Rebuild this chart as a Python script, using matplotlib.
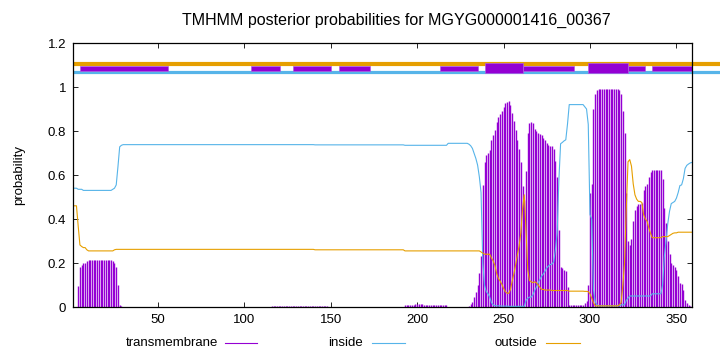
import numpy as np
import matplotlib
matplotlib.use("Agg")
import matplotlib.pyplot as plt
from matplotlib.lines import Line2D
from matplotlib.patches import Rectangle

plt.rcParams['font.family'] = ['Liberation Sans', 'DejaVu Sans']

title = "TMHMM posterior probabilities for MGYG000001416_00367"
seq_len = 359

# posterior probabilities per residue
tm = ([0, 0, 0, 0.097, 0.183, 0.19, 0.2, 0.2, 0.21] + [0.215] * 14
      + [0.21, 0.2, 0.183, 0.1, 0.01, 0.003]
      + [0.0] * 86 + [0.004] * 33 + [0.0] * 44
      + [0.008] * 6 + [0.015] * 5 + [0.01] * 14 + [0.001] * 12
      + [0.005, 0.012, 0.024, 0.047, 0.07, 0.1, 0.153, 0.23, 0.555, 0.66,
         0.69, 0.7, 0.715, 0.757, 0.78, 0.805, 0.842, 0.865, 0.877, 0.892,
         0.911, 0.926, 0.933, 0.935, 0.918, 0.88, 0.845, 0.805, 0.76, 0.72,
         0.66, 0.55, 0.487]
      + [0.62, 0.79, 0.835, 0.84, 0.835, 0.81, 0.8, 0.79, 0.785, 0.78,
         0.77, 0.76, 0.745, 0.737, 0.73, 0.73, 0.72, 0.665, 0.59, 0.35,
         0.183, 0.177, 0.17, 0.165, 0.093]
      + [0.008] * 9
      + [0.019, 0.029, 0.1, 0.52, 0.56, 0.9, 0.97, 0.985]
      + [0.99] * 12
      + [0.985, 0.97, 0.89, 0.79, 0.52, 0.3, 0.28, 0.31, 0.39, 0.44,
         0.46, 0.47, 0.47, 0.475, 0.53, 0.55, 0.56, 0.59, 0.615]
      + [0.625] * 6
      + [0.58, 0.45, 0.38, 0.3, 0.24, 0.2, 0.19, 0.183, 0.168, 0.14,
         0.108, 0.105, 0.077, 0.03, 0.016, 0.01, 0.005, 0.003])

inside = ([0.54] * 3 + [0.535] * 3 + [0.53] * 17
          + [0.535, 0.54, 0.555, 0.638, 0.728, 0.735]
          + [0.738] * 111 + [0.737] * 52 + [0.735] * 25 + [0.744] * 12
          + [0.74, 0.733, 0.721, 0.698, 0.675, 0.645, 0.592, 0.52, 0.2, 0.1,
             0.07, 0.06, 0.045, 0.02, 0.01, 0.006, 0.005, 0.005, 0.005,
             0.004, 0.004, 0.004, 0.004] + [0.003] * 10
          + [0.03, 0.04, 0.045, 0.045, 0.055, 0.075, 0.09, 0.11, 0.125, 0.14,
             0.15, 0.163, 0.178, 0.186, 0.193, 0.195, 0.205, 0.26, 0.335,
             0.575, 0.742, 0.748, 0.755, 0.76, 0.832]
          + [0.92] * 9
          + [0.91, 0.9, 0.83, 0.42, 0.4, 0.08, 0.025, 0.01]
          + [0.005] * 12
          + [0.005, 0.01, 0.01, 0.01, 0.03] + [0.04] + [0.05] * 13
          + [0.06] * 6
          + [0.1, 0.23, 0.3, 0.38, 0.435, 0.47, 0.475, 0.48, 0.495, 0.52,
             0.552, 0.555, 0.583, 0.63, 0.644, 0.65, 0.655, 0.657])

outside = ([0.46, 0.46, 0.46, 0.368, 0.282, 0.275, 0.27, 0.27, 0.26]
           + [0.255] * 14
           + [0.255, 0.26, 0.262, 0.262, 0.262, 0.262]
           + [0.262] * 111 + [0.26] * 52 + [0.255] * 25 + [0.255] * 12
           + [0.255] * 7 + [0.25, 0.245, 0.24, 0.24, 0.24, 0.24, 0.223, 0.21,
                            0.189, 0.153, 0.13, 0.118, 0.104, 0.085, 0.07,
                            0.063, 0.062, 0.079, 0.117, 0.152, 0.192, 0.237,
                            0.277, 0.337, 0.447, 0.51]
           + [0.35, 0.17, 0.12, 0.115, 0.11, 0.115, 0.11, 0.1, 0.09, 0.08,
              0.08, 0.077, 0.077, 0.077, 0.077] + [0.075] * 10
           + [0.072] * 9
           + [0.071, 0.071, 0.07, 0.06, 0.04, 0.02, 0.005, 0.005]
           + [0.005] * 12
           + [0.01, 0.02, 0.1, 0.2, 0.45, 0.66, 0.67, 0.64, 0.56, 0.51,
              0.49, 0.48, 0.48, 0.475, 0.42, 0.4, 0.39, 0.36, 0.335]
           + [0.315] * 6
           + [0.32, 0.32, 0.32, 0.32, 0.325, 0.33, 0.335, 0.337, 0.337]
           + [0.34] * 9)

# predicted topology band on top
band_thin = [(5, 56), (104, 121), (128, 150), (155, 173), (213, 235),
             (261, 291), (322, 332), (336, 359)]
band_thick = [(239, 261), (299, 322)]

yticks = [0, 0.2, 0.4, 0.6, 0.8, 1.0, 1.2]
ytick_labels = ["0", "0.2", "0.4", "0.6", "0.8", "1", "1.2"]
xticks = [50, 100, 150, 200, 250, 300, 350]

purple = '#9400d3'
blue = '#56b4e9'
orange = '#e69f00'

res = np.arange(1, seq_len + 1)
assert len(tm) == seq_len and len(inside) == seq_len and len(outside) == seq_len

fig = plt.figure(figsize=(7.2, 3.52), dpi=100)
ax = fig.add_axes([73 / 720, 45 / 352, 619 / 720, 264 / 352])

ax.vlines(res, 0, tm, color=purple, lw=1.0)
ax.plot(res, inside, color=blue, lw=0.8)
ax.plot(res, outside, color=orange, lw=0.8)

# band lines run past the right border like in the original
ax.plot([1, 400], [1.105, 1.105], color=orange, lw=3.0, clip_on=False,
        solid_capstyle='butt', zorder=2)
ax.plot([1, 400], [1.067, 1.067], color=blue, lw=2.3, clip_on=False,
        solid_capstyle='butt', zorder=2)
for s, e in band_thin:
    ax.add_patch(Rectangle((s, 1.074), e - s, 0.021, facecolor=purple,
                           edgecolor='#b060e0', lw=0.5, zorder=2.2))
for s, e in band_thick:
    ax.add_patch(Rectangle((s, 1.062), e - s, 0.047, facecolor=purple,
                           edgecolor='#b060e0', lw=0.5, zorder=2.3))

ax.set_xlim(1, seq_len)
ax.set_ylim(0, 1.2)
ax.set_xticks(xticks)
ax.set_yticks(yticks)
ax.set_yticklabels(ytick_labels)
ax.tick_params(direction='in', top=True, right=True, length=3.5, width=0.6,
               labelsize=9.5, pad=5, colors='black')
for sp in ax.spines.values():
    sp.set_linewidth(0.9)
ax.set_ylabel("probability", fontsize=9.5, labelpad=16)

fig.text(396 / 720, 1 - 20 / 352, title, ha='center', va='center', fontsize=11.5)

# gnuplot-style key: label then sample line
legend_items = [("transmembrane", purple, 218, 225, 257),
                ("inside", blue, 363, 372, 405),
                ("outside", orange, 537, 546, 580)]
ly = 1 - 343 / 352
for label, col, tx, x0, x1 in legend_items:
    fig.text(tx / 720, ly, label, ha='right', va='center', fontsize=9.5)
    fig.add_artist(Line2D([x0 / 720, x1 / 720], [ly, ly], color=col, lw=0.8,
                          transform=fig.transFigure))

fig.savefig("out.png", dpi=100)
